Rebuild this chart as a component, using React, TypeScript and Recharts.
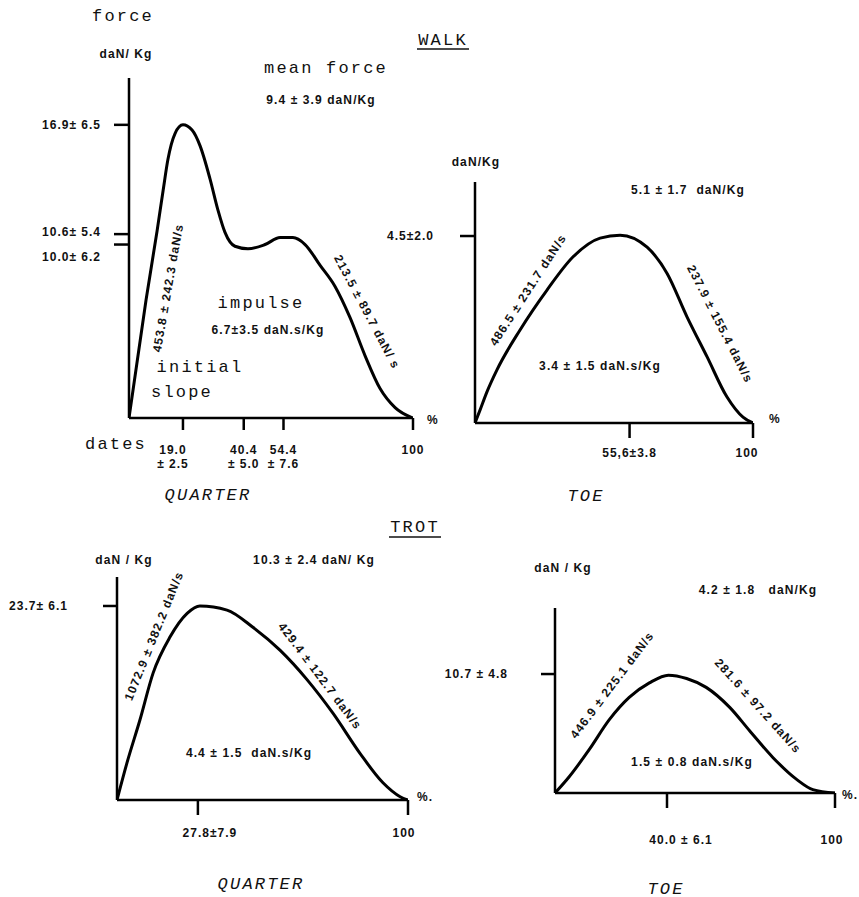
import React from 'react';
import { LineChart, Line, XAxis, YAxis } from 'recharts';

// ---------- WALK · QUARTER ----------
const walkQuarterPct = [0, 6.0, 9.9, 12.0, 13.7, 16.2, 19.0, 22.2, 25.0, 28.5, 31.3, 33.8, 37.3, 41.9, 47.9, 53.2, 57.7, 62.0, 67.3, 72.5, 77.8, 83.1, 88.4, 93.7, 100];
const walkQuarterForce = [0, 6.8, 10.8, 13.1, 14.9, 16.4, 16.9, 16.6, 15.7, 13.8, 12.0, 10.7, 9.9, 9.75, 10.0, 10.4, 10.4, 10.0, 8.8, 7.6, 5.8, 3.6, 1.7, 0.6, 0];
const walkQuarterXTicks = [19.0, 40.4, 54.4, 100];
const walkQuarterXLabels = [['19.0', '± 2.5'], ['40.4', '± 5.0'], ['54.4', '± 7.6'], ['100']];
const walkQuarterYTicks = [10.0, 10.6, 16.9];
const walkQuarterYLabels = ['10.0± 6.2', '10.6± 5.4', '16.9± 6.5'];

// ---------- WALK · TOE ----------
const walkToePct = [0, 1.8, 4.3, 7.9, 16.2, 25.9, 35.3, 45.0, 52.2, 61.9, 69.1, 76.3, 83.5, 90.6, 96.4, 100];
const walkToeForce = [0, 0.31, 0.75, 1.28, 2.24, 3.2, 4.0, 4.45, 4.52, 4.23, 3.6, 2.55, 1.59, 0.63, 0.14, 0];
const walkToeXTicks = [55.6, 100];
const walkToeXLabels = [['55,6±3.8'], ['100']];
const walkToeYTicks = [4.5];
const walkToeYLabels = ['4.5±2.0'];

// ---------- TROT · QUARTER ----------
const trotQuarterPct = [0, 3.4, 7.9, 12.4, 18.2, 24.1, 28.5, 37.8, 46.7, 56.0, 65.3, 74.2, 83.5, 91.4, 97.3, 100];
const trotQuarterForce = [0, 4.5, 9.8, 15.5, 19.9, 22.8, 23.7, 23.2, 21.1, 18.3, 14.7, 10.6, 5.7, 2.1, 0.4, 0];
const trotQuarterXTicks = [27.8, 100];
const trotQuarterXLabels = [['27.8±7.9'], ['100']];
const trotQuarterYTicks = [23.7];
const trotQuarterYLabels = ['23.7± 6.1'];

// ---------- TROT · TOE ----------
const trotToePct = [0, 5.0, 12.2, 19.4, 26.5, 33.7, 40.5, 47.0, 54.0, 62.4, 69.5, 77.8, 86.4, 92.1, 100];
const trotToeForce = [0, 1.44, 3.9, 6.6, 8.6, 9.9, 10.6, 10.3, 9.5, 7.7, 5.6, 3.2, 1.2, 0.3, 0];
const trotToeXTicks = [40.0, 100];
const trotToeXLabels = [['40.0 ± 6.1'], ['100']];
const trotToeYTicks = [10.7];
const trotToeYLabels = ['10.7 ± 4.8'];

const zip = (pct: number[], force: number[]) => pct.map((p, i) => ({ pct: p, force: force[i] }));

const MONO = "'Liberation Mono', 'DejaVu Sans Mono', monospace";
const BOLD = "'Liberation Sans', Arial, sans-serif";
const INK = '#111';

type Layout = {
  left: number; top: number; axisX: number; plotRight: number; axisTop: number; baseline: number;
  yMax: number; xTickSize: number; yTickSize: number; xTickMargin: number; yTickMargin: number;
  yLabelDy?: number[]; xLabelDx?: number[];
};

const findIdx = (ticks: number[], v: number) => ticks.findIndex((t) => Math.abs(t - v) < 1e-6);

function Panel(props: {
  data: { pct: number; force: number }[];
  xTicks: number[]; xLabels: string[][]; yTicks: number[]; yLabels: string[]; layout: Layout;
}) {
  const { data, xTicks, xLabels, yTicks, yLabels, layout } = props;
  const L = layout;
  const right = 24;
  const xAxisHeight = 70;
  const width = L.plotRight - L.left + right;
  const height = L.baseline - L.top + xAxisHeight;
  const axisStyle = { stroke: '#000', strokeWidth: 2.5 };
  const renderXTick = (p: any) => {
    const i = findIdx(xTicks, p.payload.value);
    const lines = xLabels[i] || [];
    const dx = (L.xLabelDx && L.xLabelDx[i]) || 0;
    return (
      <g>
        {lines.map((s, k) => (
          <text key={k} x={p.x + dx} y={p.y + k * 14} textAnchor="middle" dominantBaseline="central"
            fontFamily={BOLD} fontWeight={700} fontSize={12} letterSpacing={1} fill={INK} style={{ whiteSpace: 'pre' }}>
            {s}
          </text>
        ))}
      </g>
    );
  };
  const renderYTick = (p: any) => {
    const i = findIdx(yTicks, p.payload.value);
    const dy = (L.yLabelDy && L.yLabelDy[i]) || 0;
    return (
      <text x={p.x} y={p.y + dy} textAnchor="end" dominantBaseline="central"
        fontFamily={BOLD} fontWeight={700} fontSize={12} letterSpacing={1} fill={INK} style={{ whiteSpace: 'pre' }}>
        {yLabels[i]}
      </text>
    );
  };
  return (
    <div style={{ position: 'absolute', left: L.left, top: L.top }}>
      <LineChart width={width} height={height} data={data}
        margin={{ top: L.axisTop - L.top, right, bottom: 0, left: 0 }}>
        <XAxis type="number" dataKey="pct" domain={[0, 100]} ticks={xTicks} interval={0}
          height={xAxisHeight} tickSize={L.xTickSize} tickMargin={L.xTickMargin}
          axisLine={axisStyle} tickLine={axisStyle} tick={renderXTick} allowDataOverflow />
        <YAxis type="number" domain={[0, L.yMax]} ticks={yTicks} interval={0}
          width={L.axisX - L.left} tickSize={L.yTickSize} tickMargin={L.yTickMargin}
          axisLine={axisStyle} tickLine={axisStyle} tick={renderYTick} allowDataOverflow />
        <Line type="monotone" dataKey="force" stroke="#000" strokeWidth={3} dot={false}
          isAnimationActive={false} strokeLinejoin="round" strokeLinecap="round" />
      </LineChart>
    </div>
  );
}

const layoutWalkQuarter: Layout = {
  left: 0, top: 60, axisX: 129, plotRight: 413, axisTop: 78, baseline: 418, yMax: 19.6,
  xTickSize: 12, yTickSize: 15, xTickMargin: 20, yTickMargin: 13,
  yLabelDy: [12, -2, 0], xLabelDx: [-10, 0, 0, 0],
};
const layoutWalkToe: Layout = {
  left: 330, top: 160, axisX: 475, plotRight: 753, axisTop: 182, baseline: 423, yMax: 5.8,
  xTickSize: 15, yTickSize: 15, xTickMargin: 15, yTickMargin: 26, xLabelDx: [0, -6],
};
const layoutTrotQuarter: Layout = {
  left: 0, top: 555, axisX: 117, plotRight: 408, axisTop: 577, baseline: 800, yMax: 27.24,
  xTickSize: 15, yTickSize: 14, xTickMargin: 18, yTickMargin: 35, xLabelDx: [12, -4],
};
const layoutTrotToe: Layout = {
  left: 430, top: 588, axisX: 555, plotRight: 835, axisTop: 608, baseline: 793, yMax: 16.64,
  xTickSize: 15, yTickSize: 14, xTickMargin: 32, yTickMargin: 33, xLabelDx: [14, -3],
};

type Note = { t: string; x: number; y: number; k: 'mono' | 'italic' | 'bold'; a?: number };
const notes: Note[] = [
  { t: 'force', x: 123, y: 16, k: 'mono' },
  { t: 'WALK', x: 443, y: 40, k: 'mono' },
  { t: 'mean force', x: 326, y: 68, k: 'mono' },
  { t: 'impulse', x: 261, y: 303, k: 'mono' },
  { t: 'initial', x: 200, y: 367, k: 'mono' },
  { t: 'slope', x: 182, y: 392, k: 'mono' },
  { t: 'dates', x: 116, y: 444, k: 'mono' },
  { t: 'TROT', x: 415, y: 527, k: 'mono' },
  { t: 'QUARTER', x: 208, y: 495, k: 'italic' },
  { t: 'TOE', x: 586, y: 496, k: 'italic' },
  { t: 'QUARTER', x: 261, y: 884, k: 'italic' },
  { t: 'TOE', x: 666, y: 889, k: 'italic' },
  { t: 'daN/ Kg', x: 126, y: 54, k: 'bold' },
  { t: '9.4 ± 3.9 daN/Kg', x: 321, y: 100, k: 'bold' },
  { t: '6.7±3.5 daN.s/Kg', x: 268, y: 330, k: 'bold' },
  { t: '453.8 ± 242.3 daN/s', x: 168, y: 288, k: 'bold', a: -80 },
  { t: '213.5 ± 89.7 daN/ s', x: 367, y: 312, k: 'bold', a: 62 },
  { t: '%', x: 433, y: 420, k: 'bold' },
  { t: 'daN/Kg', x: 476, y: 162, k: 'bold' },
  { t: '5.1 ± 1.7  daN/Kg', x: 688, y: 190, k: 'bold' },
  { t: '3.4 ± 1.5 daN.s/Kg', x: 600, y: 366, k: 'bold' },
  { t: '486.5 ± 231.7 daN/s', x: 528, y: 290, k: 'bold', a: -57 },
  { t: '237.9 ± 155.4 daN/s', x: 720, y: 324, k: 'bold', a: 63 },
  { t: '%', x: 775, y: 419, k: 'bold' },
  { t: 'daN / Kg', x: 124, y: 560, k: 'bold' },
  { t: '10.3 ± 2.4 daN/ Kg', x: 314, y: 560, k: 'bold' },
  { t: '4.4 ± 1.5  daN.s/Kg', x: 249, y: 753, k: 'bold' },
  { t: '1072.9 ± 382.2 daN/s', x: 154, y: 636, k: 'bold', a: -68 },
  { t: '429.4 ± 122.7 daN/s', x: 320, y: 676, k: 'bold', a: 53 },
  { t: '%.', x: 425, y: 797, k: 'bold' },
  { t: 'daN / Kg', x: 563, y: 568, k: 'bold' },
  { t: '4.2 ± 1.8   daN/Kg', x: 758, y: 590, k: 'bold' },
  { t: '1.5 ± 0.8 daN.s/Kg', x: 692, y: 762, k: 'bold' },
  { t: '446.9 ± 225.1 daN/s', x: 612, y: 685, k: 'bold', a: -53 },
  { t: '281.6 ± 97.2 daN/s', x: 758, y: 706, k: 'bold', a: 48 },
  { t: '%.', x: 850, y: 795, k: 'bold' },
];
const underlines = [
  { x1: 417, x2: 469, y: 49 },
  { x1: 389, x2: 441, y: 537 },
];

function Notes() {
  return (
    <svg width={859} height={897} style={{ position: 'absolute', left: 0, top: 0, pointerEvents: 'none' }}>
      {notes.map((n, i) => {
        const common: any = {
          x: n.x, y: n.y, textAnchor: 'middle', dominantBaseline: 'central', fill: INK,
          style: { whiteSpace: 'pre' },
          transform: n.a ? `rotate(${n.a} ${n.x} ${n.y})` : undefined,
        };
        if (n.k === 'bold') {
          return <text key={i} {...common} fontFamily={BOLD} fontWeight={700} fontSize={12} letterSpacing={1.1}>{n.t}</text>;
        }
        return (
          <text key={i} {...common} fontFamily={MONO} fontSize={17} letterSpacing={2.2}
            fontStyle={n.k === 'italic' ? 'italic' : 'normal'}>{n.t}</text>
        );
      })}
      {underlines.map((u, i) => (
        <line key={i} x1={u.x1} x2={u.x2} y1={u.y} y2={u.y} stroke={INK} strokeWidth={1.5} />
      ))}
    </svg>
  );
}

export default function App() {
  return (
    <div style={{ position: 'absolute', left: 0, top: 0, width: 859, height: 897, background: '#fff', overflow: 'hidden' }}>
      <Panel data={zip(walkQuarterPct, walkQuarterForce)} xTicks={walkQuarterXTicks} xLabels={walkQuarterXLabels}
        yTicks={walkQuarterYTicks} yLabels={walkQuarterYLabels} layout={layoutWalkQuarter} />
      <Panel data={zip(walkToePct, walkToeForce)} xTicks={walkToeXTicks} xLabels={walkToeXLabels}
        yTicks={walkToeYTicks} yLabels={walkToeYLabels} layout={layoutWalkToe} />
      <Panel data={zip(trotQuarterPct, trotQuarterForce)} xTicks={trotQuarterXTicks} xLabels={trotQuarterXLabels}
        yTicks={trotQuarterYTicks} yLabels={trotQuarterYLabels} layout={layoutTrotQuarter} />
      <Panel data={zip(trotToePct, trotToeForce)} xTicks={trotToeXTicks} xLabels={trotToeXLabels}
        yTicks={trotToeYTicks} yLabels={trotToeYLabels} layout={layoutTrotToe} />
      <Notes />
    </div>
  );
}
